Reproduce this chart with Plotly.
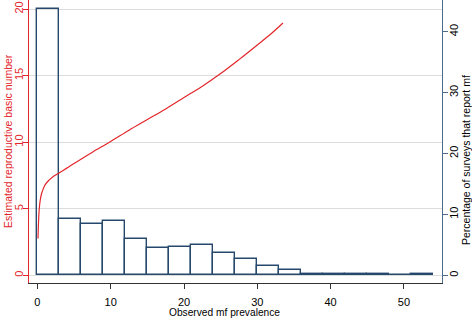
import plotly.graph_objects as go

# Histogram: percentage of surveys by observed mf prevalence (bin width 3)
bin_left = [0, 3, 6, 9, 12, 15, 18, 21, 24, 27, 30, 33, 36, 39, 42, 45, 48, 51]
bin_pct = [43.8, 9.2, 8.4, 8.95, 6.0, 4.4, 4.7, 4.9, 3.6, 2.7, 1.5, 0.9, 0.25, 0.25, 0.25, 0.25, 0.0, 0.25]
bin_width = 3

# Estimated reproductive basic number vs observed prevalence
prev = [0.08, 0.15, 0.25, 0.4, 0.6, 0.8, 1.0, 1.5, 2, 3, 4, 5, 7.5, 10, 12.5, 15,
        17.5, 20, 22.5, 25, 27.5, 30, 32, 33.5]
r0 = [2.76, 4.0, 5.0, 5.7, 6.2, 6.5, 6.75, 7.1, 7.35, 7.7, 8.05, 8.4, 9.25, 10.05,
      10.9, 11.7, 12.5, 13.35, 14.2, 15.15, 16.2, 17.3, 18.2, 18.95]

x_ticks = [0, 10, 20, 30, 40, 50]
left_ticks = [0, 5, 10, 15, 20]
right_ticks = [0, 10, 20, 30, 40]

RED = "#e3262b"
NAVY = "#26486c"
RAXIS = "#4d6b8a"
FONT = "Liberation Sans, Arial, sans-serif"

L, R, T, B = 29, 30, 0, 36
W, H = 472, 319
PW, PH = W - L - R, H - T - B


def px(xp):
    return (xp - L) / PW


def py(yp):
    return (H - B - yp) / PH


fig = go.Figure()
fig.add_trace(go.Bar(
    x=[b + bin_width / 2 for b in bin_left], y=bin_pct, width=[bin_width] * len(bin_left),
    marker=dict(color="rgba(255,255,255,0)", line=dict(color=NAVY, width=1.4)),
    yaxis="y", showlegend=False, hoverinfo="skip"))
fig.add_trace(go.Scatter(
    x=prev, y=r0, mode="lines", line=dict(color=RED, width=1.2, shape="spline"),
    yaxis="y2", showlegend=False))

fig.update_layout(
    width=W, height=H,
    margin=dict(l=L, r=R, t=T, b=B),
    paper_bgcolor="white", plot_bgcolor="white",
    font=dict(family=FONT, size=11, color="black"),
    bargap=0,
    xaxis=dict(range=[-1.15, 55.2], tickvals=x_ticks, showgrid=False, zeroline=False,
               showline=True, linecolor="#333333", linewidth=1, ticks="outside",
               ticklen=5, tickcolor="#333333", tickfont=dict(size=11),
               ticklabelstandoff=4, automargin=False),
    yaxis=dict(range=[-1.27, 45.2], tickvals=right_ticks, side="right", showgrid=False,
               zeroline=False, showline=True, linecolor=RAXIS, linewidth=1.3,
               ticks="outside", ticklen=5, tickcolor=RAXIS, tickangle=-90,
               ticklabelstandoff=-3,
               tickfont=dict(size=11, color="black"), automargin=False),
    yaxis2=dict(range=[-0.58, 20.68], tickvals=left_ticks, side="left", overlaying="y",
                showgrid=True, gridcolor="#dcdcdc", gridwidth=1.2, zeroline=False,
                showline=True, linecolor=RED, linewidth=1.3, ticks="outside",
                ticklen=5, tickcolor=RED, tickangle=-90, ticklabelstandoff=-5,
                tickfont=dict(size=11, color=RED), automargin=False),
    annotations=[
        dict(text="Observed mf prevalence", xref="paper", yref="paper",
             x=px(224), y=py(312), xanchor="center", yanchor="middle",
             showarrow=False, font=dict(size=10.2, color="black")),
        dict(text="Estimated reproductive basic number", xref="paper", yref="paper",
             x=px(8), y=py(141), xanchor="center", yanchor="middle", textangle=-90,
             showarrow=False, font=dict(size=10.5, color=RED)),
        dict(text="Percentage of surveys that report mf", xref="paper", yref="paper",
             x=px(466), y=py(160), xanchor="center", yanchor="middle", textangle=-90,
             showarrow=False, font=dict(size=10.5, color="black")),
    ],
)

fig.write_html("out.html", config={"displayModeBar": False},
               post_script="document.body.style.margin='0';document.body.style.overflow='hidden';")
